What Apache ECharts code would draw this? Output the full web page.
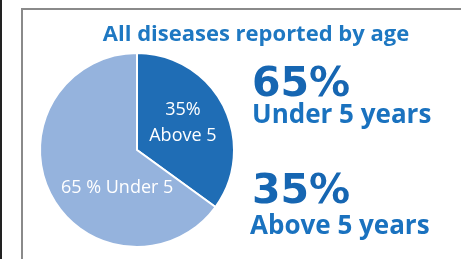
<!DOCTYPE html>
<html>
<head>
    <meta charset="utf-8">
    <title>All diseases reported by age</title>
    <style>
        html, body { margin: 0; padding: 0; background: #fff; }
        #main { width: 461px; height: 259px; }
    </style>
</head>
<body>
    <div id="main"></div>
    <script src="https://cdn.jsdelivr.net/npm/echarts@6/dist/echarts.min.js"></script>
    <script>
    // data
    var categories = ['Above 5', 'Under 5'];
    var shares = [35, 65];
    var sliceLabels = ['35%\nAbove 5', '65 % Under 5'];
    var sideBig = ['65%', '35%'];
    var sideSmall = ['Under 5 years', 'Above 5 years'];

    var colors = ['#1f6db5', '#95b3dd'];
    var labelOffsets = [[0, -4], [26, 14]];

    var chart = echarts.init(document.getElementById('main'));

    var pieData = categories.map(function (c, i) {
        return {
            name: c,
            value: shares[i],
            itemStyle: { color: colors[i] },
            label: { formatter: sliceLabels[i], offset: labelOffsets[i] }
        };
    });

    var font = '"Open Sans", "Noto Sans", sans-serif';
    var bigFont = 'bold 41px "DejaVu Sans", sans-serif';

    chart.setOption({
        animation: false,
        title: {
            text: 'All diseases reported by age',
            left: 251,
            top: 19,
            textAlign: 'center',
            textStyle: { color: '#1e78c2', fontSize: 22, fontWeight: 'bold', fontFamily: font }
        },
        graphic: [
            { type: 'rect', shape: { x: 0, y: 0, width: 2, height: 259 }, style: { fill: '#222' } },
            { type: 'rect', shape: { x: 22, y: 9, width: 460, height: 270 }, style: { fill: null, stroke: '#8a8a8a', lineWidth: 2 } },
            { type: 'text', left: 252, top: 65, style: { text: sideBig[0], fill: '#1666b2', font: bigFont } },
            { type: 'text', left: 252, top: 103, style: { text: sideSmall[0], fill: '#1a72bf', font: 'bold 26px ' + font } },
            { type: 'text', left: 252, top: 172, style: { text: sideBig[1], fill: '#1666b2', font: bigFont } },
            { type: 'text', left: 250, top: 214, style: { text: sideSmall[1], fill: '#1a72bf', font: 'bold 26px ' + font } }
        ],
        series: [{
            type: 'pie',
            center: [137, 150],
            radius: [0, 97],
            startAngle: 90,
            clockwise: true,
            data: pieData,
            itemStyle: { borderColor: '#fff', borderWidth: 2 },
            label: {
                show: true,
                position: 'inside',
                color: '#fff',
                fontSize: 18,
                lineHeight: 26,
                fontFamily: font
            },
            labelLine: { show: false },
            emphasis: { disabled: true }
        }]
    });
    </script>
</body>
</html>
